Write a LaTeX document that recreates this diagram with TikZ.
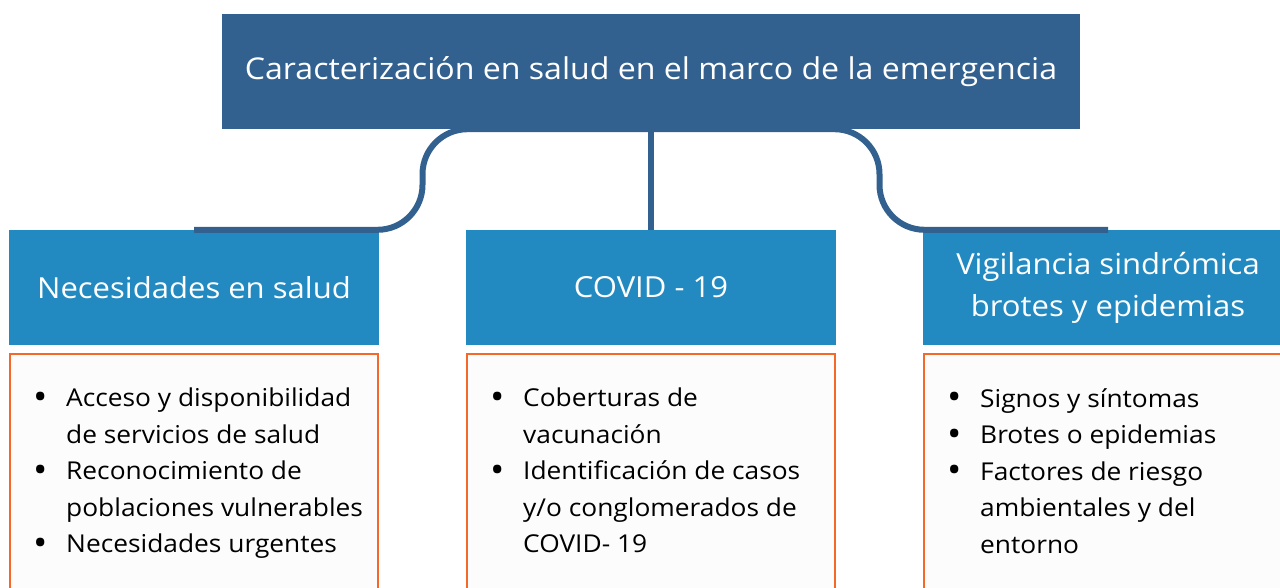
\documentclass[tikz,border=0pt]{standalone}
\usepackage{fontspec}
\setmainfont{Open Sans}[FakeStretch=1.07]
\definecolor{topblue}{HTML}{32618F}
\definecolor{headblue}{HTML}{228AC1}
\definecolor{edgeorange}{HTML}{F4692A}
\newcommand\bul{\makebox[32pt][l]{\hspace*{-1pt}\raisebox{-2.6pt}{\scalebox{1.45}{\textbullet}}}}
\newcommand\ind{\hspace*{32pt}}
\begin{document}
\begin{tikzpicture}[x=1pt,y=-1pt,
  topbox/.style={fill=topblue, text=white, inner sep=0pt, minimum width=858pt, minimum height=115pt, font=\fontsize{30}{36}\selectfont},
  headbox/.style={fill=headblue, text=white, inner sep=0pt, minimum width=370pt, minimum height=115pt, align=center, font=\fontsize{29}{42}\selectfont},
  listbox/.style={draw=edgeorange, line width=2pt, fill=white!99!black, inner sep=0pt, minimum width=368pt, minimum height=300pt},
  listtext/.style={inner sep=0pt, anchor=north west, align=left, text=black, font=\fontsize{24.6}{36.5}\selectfont},
  conn/.style={draw=topblue, line width=6pt, rounded corners=45pt}
]
\useasboundingbox (0,0) rectangle (1280,588);
\clip (0,0) rectangle (1280,588);
\node[topbox] (top) at (651,71.5) {Caracterización en salud en el marco de la emergencia};
\node[headbox] (h1) at (194,287.5) {Necesidades en salud};
\node[headbox] (h2) at (651,287.5) {COVID - 19};
\node[headbox] (h3) at (1108,287.5) {Vigilancia sindrómica\\brotes y epidemias};
\node[listbox] (b1) at (194,504) {};
\node[listbox] (b2) at (651,504) {};
\node[listbox] (b3) at (1108,504) {};
\node[listtext] (l1) at (34,388) {\bul Acceso y disponibilidad\\\ind de servicios de salud\\\bul Reconocimiento de\\\ind poblaciones vulnerables\\\bul Necesidades urgentes};
\node[listtext] (l2) at (491,388) {\bul Coberturas de\\\ind vacunación\\\bul Identificación de casos\\\ind y/o conglomerados de\\\ind COVID- 19};
\node[listtext] (l3) at (948,388) {\bul Signos y síntomas\\\bul Brotes o epidemias\\\bul Factores de riesgo\\\ind ambientales y del\\\ind entorno};
\coordinate (m1) at (422.5,180);
\coordinate (m3) at (879.5,180);
\draw[conn] (top.south) -- (m1 |- top.south) -- (m1 |- h1.north) -- (h1.north);
\draw[conn] (top.south) -- (m3 |- top.south) -- (m3 |- h3.north) -- (h3.north);
\draw[conn] (top.south) -- (h2.north);
\end{tikzpicture}
\end{document}
